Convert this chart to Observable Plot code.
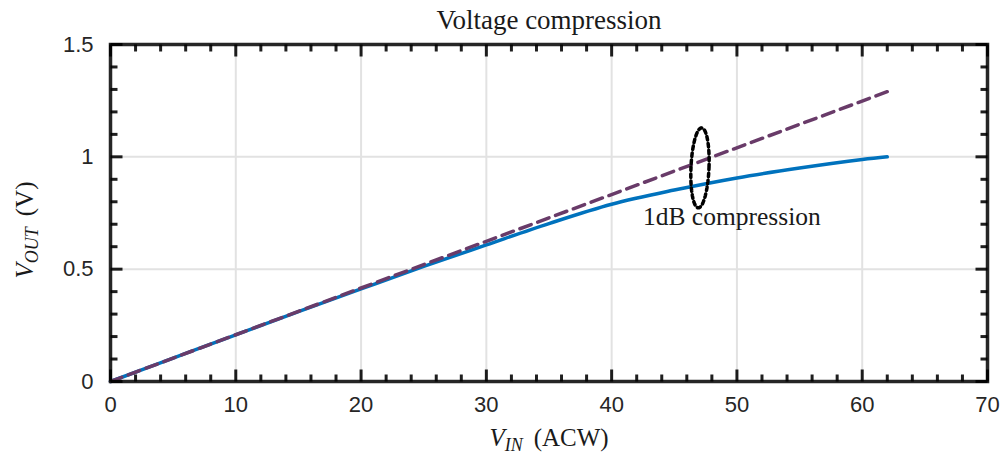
<!DOCTYPE html>
<html><head><meta charset="utf-8">
<script src="https://cdn.jsdelivr.net/npm/d3@7"></script>
<script src="https://cdn.jsdelivr.net/npm/@observablehq/plot@0.6"></script>
<style>body{margin:0;background:#fff;}</style>
</head><body><div id="chart"></div>
<script>
// ---- data ----
const vin  = [0, 5, 10, 15, 20, 25, 30, 35, 40, 45, 50, 55, 60, 62];
const vout = [0, 0.104, 0.208, 0.311, 0.412, 0.512, 0.608, 0.703, 0.789, 0.852, 0.906, 0.950, 0.988, 1.0];
const idealVin  = [0, 62];
const idealVout = [0, 1.29];
const xTicks = [0, 10, 20, 30, 40, 50, 60, 70];
const yTicks = [0, 0.5, 1, 1.5];
const xMinor = [2,4,6,8,12,14,16,18,22,24,26,28,32,34,36,38,42,44,46,48,52,54,56,58,62,64,66,68];
const yMinor = [0.1,0.2,0.3,0.4,0.6,0.7,0.8,0.9,1.1,1.2,1.3,1.4];
const titleText = ["Voltage compression"];
const noteText = ["1dB compression"];
const noteX = [42.5];
const noteY = [0.733];
const markerCenter = [47.05, 0.951];
const markerRadius = [0.72, 0.178];

const curve = vin.map((v, i) => ({vin: v, vout: vout[i]}));
const ideal = idealVin.map((v, i) => ({vin: v, vout: idealVout[i]}));
const ellipse = d3.range(0, 73).map(k => {
  const t = k / 72 * 2 * Math.PI;
  const s = Math.sin(t);
  return {vin: markerCenter[0] + markerRadius[0] * Math.cos(t) + 0.13 * s, vout: markerCenter[1] + markerRadius[1] * s};
});
const notes = noteText.map((t, i) => ({t, x: noteX[i], y: noteY[i]}));

const W = 1003, H = 454, mL = 110, mR = 16, mT = 44, mB = 73;
const iH = H - mT - mB, iW = W - mL - mR;
const X0 = 0, X1 = 70, Y0 = 0, Y1 = 1.5;
const serif = "'Liberation Serif', 'Times New Roman', serif";
const majLen = 12, minLen = 7;
const dyMaj = majLen * (Y1 - Y0) / iH, dyMin = minLen * (Y1 - Y0) / iH;
const dxMaj = majLen * (X1 - X0) / iW, dxMin = minLen * (X1 - X0) / iW;

// tick segment tables (built from the tick arrays)
const segX = [];
for (const v of xTicks) { segX.push({x: v, a: Y0, b: Y0 + dyMaj}, {x: v, a: Y1, b: Y1 - dyMaj}); }
for (const v of xMinor) { segX.push({x: v, a: Y0, b: Y0 + dyMin}, {x: v, a: Y1, b: Y1 - dyMin}); }
const segY = [];
for (const v of yTicks) { segY.push({y: v, a: X0, b: X0 + dxMaj}, {y: v, a: X1, b: X1 - dxMaj}); }
for (const v of yMinor) { segY.push({y: v, a: X0, b: X0 + dxMin}, {y: v, a: X1, b: X1 - dxMin}); }

const chart = Plot.plot({
  width: W, height: H,
  marginLeft: mL, marginRight: mR, marginTop: mT, marginBottom: mB,
  x: {domain: [X0, X1]},
  y: {domain: [Y0, Y1]},
  style: {fontFamily: "'Liberation Sans', Arial, sans-serif", background: "#fff", overflow: "visible"},
  marks: [
    Plot.ruleX(xTicks, {x: d => d, stroke: "#e2e2e2", strokeWidth: 2}),
    Plot.ruleY(yTicks, {y: d => d, stroke: "#e2e2e2", strokeWidth: 2}),
    Plot.line(curve, {x: "vin", y: "vout", stroke: "#0072BD", strokeWidth: 3.5, curve: "catmull-rom"}),
    Plot.line(ideal, {x: "vin", y: "vout", stroke: "#693b69", strokeWidth: 3.5, strokeDasharray: "12,7"}),
    Plot.line(ellipse, {x: "vin", y: "vout", stroke: "#000", strokeWidth: 3.5, strokeDasharray: "3.5,3.5"}),
    Plot.text(notes, {x: "x", y: "y", text: "t", textAnchor: "start", fontSize: 25.5, fontFamily: serif, fill: "#1a1a1a"}),
    Plot.axisX(xTicks, {tickSize: 0, tickPadding: 15, fontSize: 22, fill: "#262626", label: null}),
    Plot.axisY(yTicks, {tickSize: 0, tickPadding: 17, fontSize: 22, fill: "#262626", label: null, tickFormat: d => String(d)}),
    Plot.text(titleText, {text: d => d, frameAnchor: "top", lineAnchor: "middle", dy: -24, fontSize: 27, fontFamily: serif, fill: "#1a1a1a"}),
    Plot.text(["V_IN (ACW)"], {text: d => d, frameAnchor: "bottom", lineAnchor: "middle", textAnchor: "middle", dy: 56, fontSize: 25, fontFamily: serif, fill: "#1a1a1a"}),
    Plot.text(["V_OUT (V)"], {text: d => d, frameAnchor: "left", lineAnchor: "middle", textAnchor: "middle", dx: -86, dy: 17, rotate: -90, fontSize: 25, fontFamily: serif, fill: "#1a1a1a"}),
    Plot.frame({stroke: "#262626", strokeWidth: 3.5}),
    // inward ticks on all four sides
    Plot.link(segX, {x1: "x", x2: "x", y1: "a", y2: "b", stroke: "black", strokeOpacity: 0.88, strokeWidth: 3}),
    Plot.link(segY, {y1: "y", y2: "y", x1: "a", x2: "b", stroke: "black", strokeOpacity: 0.88, strokeWidth: 3})
  ]
});
document.getElementById("chart").appendChild(chart);

function mathLabel(sel, base, sub, rest) {
  sel.text(null);
  sel.append("tspan").attr("font-style", "italic").text(base);
  sel.append("tspan").attr("font-style", "italic").attr("font-size", "0.72em").attr("dy", "5").text(sub);
  sel.append("tspan").attr("dy", "-5").attr("dx", "11").text(rest);
}
const svg = d3.select(chart);
svg.selectAll("text").filter(function() { return this.textContent === "V_IN (ACW)"; })
  .each(function() { mathLabel(d3.select(this), "V", "IN", "(ACW)"); });
svg.selectAll("text").filter(function() { return this.textContent === "V_OUT (V)"; })
  .each(function() { mathLabel(d3.select(this), "V", "OUT", "(V)"); });
</script>
</body></html>
